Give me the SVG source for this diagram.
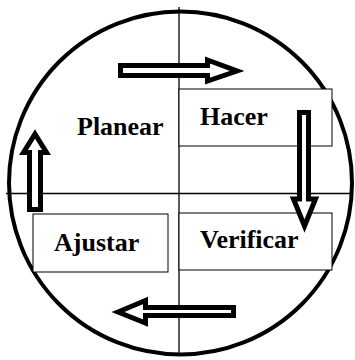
<svg xmlns="http://www.w3.org/2000/svg" width="355" height="360" viewBox="0 0 355 360">
<style>
.axis{stroke:#000;stroke-width:1.3;fill:none}
.ring{stroke:#000;stroke-width:4;fill:none}
.box{fill:#fff;stroke:#000;stroke-width:1}
.arr{fill:#fff;stroke:#000;stroke-width:5;stroke-linejoin:miter;stroke-miterlimit:10}
.lbl{font-family:"Liberation Serif","Times New Roman",serif;font-weight:bold;font-size:26px;fill:#000}
</style>
<rect width="355" height="360" fill="#fff"/>
<g id="background">
<circle class="ring" cx="180.5" cy="183" r="171.5"/>
<line class="axis" x1="179" y1="7" x2="179" y2="353"/>
<line class="axis" x1="6" y1="193.5" x2="352" y2="193.5"/>
</g>
<g id="Planear">
<text class="lbl" x="77" y="135">Planear</text>
</g>
<g id="Hacer">
<rect class="box" x="179" y="89" width="153" height="57"/>
</g>
<g id="Verificar">
<rect class="box" x="179" y="213" width="153" height="57"/>
</g>
<g id="Ajustar">
<rect class="box" x="33" y="214" width="135" height="58"/>
<text class="lbl" x="54" y="251">Ajustar</text>
</g>
<g id="connectors">
<polygon class="arr" points="120.5,65.5 207.5,65.5 207.5,60 237,71 207.5,81 207.5,75.5 120.5,75.5"/>
<polygon class="arr" points="299.5,112.5 308.5,112.5 308.5,199 315.5,199 304.5,226 293.5,199 299.5,199"/>
<polygon class="arr" points="118,312 145.5,300.5 145.5,307.5 233.5,307.5 233.5,315.5 145.5,315.5 145.5,323"/>
<polygon class="arr" points="35,134 46.5,152.5 40.5,152.5 40.5,209.5 29.5,209.5 29.5,152.5 23.5,152.5"/>
</g>
<g id="labels">
<text class="lbl" x="200" y="125">Hacer</text>
<text class="lbl" x="200" y="248">Verificar</text>
</g>
</svg>
